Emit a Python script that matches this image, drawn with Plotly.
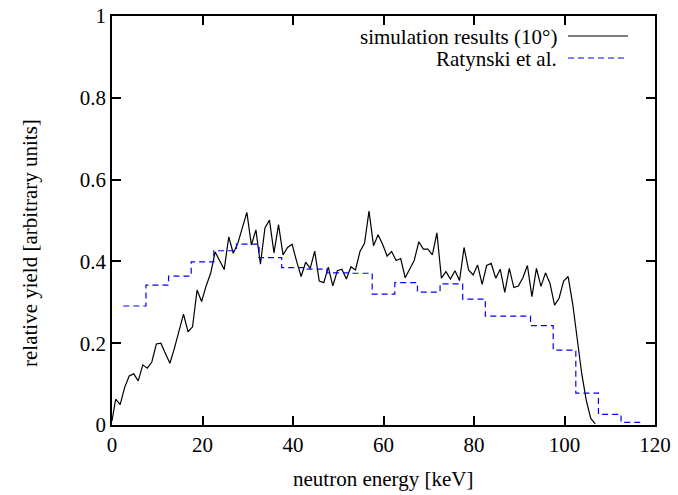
import plotly.graph_objects as go

# --- simulation results (black line) ---
sim_energy = [0.0, 0.8, 1.8, 2.8, 3.8, 4.8, 5.8, 6.8, 7.8, 8.8, 9.8, 10.8, 11.8, 12.8, 13.8,
              14.8, 15.8, 16.8, 17.8, 18.8, 19.8, 20.8, 21.8, 22.8, 23.8, 24.8, 25.8, 26.8,
              27.8, 28.8, 29.8, 30.8, 31.8, 32.8, 33.8, 34.8, 35.8, 36.8, 37.8, 38.8, 39.8,
              40.8, 41.8, 42.8, 43.8, 44.8, 45.8, 46.8, 47.8, 48.8, 49.8, 50.8, 51.8, 52.8,
              53.8, 54.8, 55.8, 56.8, 57.8, 58.8, 59.8, 60.8, 61.8, 62.8, 63.8, 64.8, 65.8,
              66.8, 67.8, 68.8, 69.8, 70.8, 71.8, 72.8, 73.8, 74.8, 75.8, 76.8, 77.8, 78.8,
              79.8, 80.8, 81.8, 82.8, 83.8, 84.8, 85.8, 86.8, 87.8, 88.8, 89.8, 90.8, 91.8,
              92.8, 93.8, 94.8, 95.8, 96.8, 97.8, 98.8, 99.8, 100.8, 101.8, 102.8, 103.8,
              104.8, 105.8, 106.8]
sim_yield = [0.01, 0.063, 0.05, 0.092, 0.12, 0.125, 0.108, 0.147, 0.139, 0.154, 0.198, 0.200,
             0.175, 0.151, 0.188, 0.232, 0.271, 0.228, 0.240, 0.330, 0.302, 0.340, 0.371,
             0.423, 0.403, 0.380, 0.460, 0.420, 0.444, 0.482, 0.520, 0.440, 0.477, 0.393,
             0.482, 0.501, 0.421, 0.490, 0.416, 0.434, 0.442, 0.400, 0.363, 0.398, 0.383,
             0.425, 0.352, 0.348, 0.386, 0.340, 0.377, 0.381, 0.357, 0.387, 0.379, 0.424,
             0.444, 0.523, 0.438, 0.465, 0.442, 0.413, 0.424, 0.402, 0.407, 0.360, 0.381,
             0.403, 0.448, 0.430, 0.430, 0.416, 0.470, 0.359, 0.375, 0.357, 0.377, 0.353,
             0.434, 0.379, 0.367, 0.391, 0.344, 0.390, 0.395, 0.359, 0.381, 0.324, 0.383,
             0.336, 0.340, 0.360, 0.390, 0.314, 0.383, 0.339, 0.372, 0.346, 0.293, 0.310,
             0.352, 0.363, 0.297, 0.216, 0.126, 0.061, 0.016, 0.003]

# --- Ratynski et al. (histogram steps) ---
rat_edges = [2.5, 7.5, 12.5, 17.5, 22.5, 27.5, 32.5, 37.5, 42.5, 47.5, 52.5, 57.5, 62.5,
             67.5, 72.5, 77.5, 82.5, 87.5, 92.5, 97.5, 102.5, 107.5, 112.5, 117.5]
rat_yield = [0.291, 0.342, 0.364, 0.399, 0.426, 0.442, 0.409, 0.385, 0.381, 0.372, 0.371,
             0.320, 0.348, 0.325, 0.345, 0.308, 0.266, 0.266, 0.243, 0.183, 0.078, 0.026,
             0.0066]

x_ticks = [0, 20, 40, 60, 80, 100, 120]
y_ticks = [0, 0.2, 0.4, 0.6, 0.8, 1]
y_tick_text = ["0", "0.2", "0.4", "0.6", "0.8", "1"]

label_sim = "simulation results (10°)"
label_rat = "Ratynski et al."
x_title = "neutron energy [keV]"
y_title = "relative yield [arbitrary units]"

FONT = "Liberation Serif"
FS = 21

fig = go.Figure()
fig.add_trace(go.Scatter(
    x=sim_energy, y=sim_yield, mode="lines",
    line=dict(color="black", width=1.2), showlegend=False))
fig.add_trace(go.Scatter(
    x=rat_edges, y=rat_yield + [rat_yield[-1]], mode="lines",
    line=dict(color="#0000ff", width=1.2, dash="6px,4px", shape="hv"), showlegend=False))

W, H = 678, 495
ml, mr, mt, mb = 112, 23, 16, 70
pw, ph = W - ml - mr, H - mt - mb

def px(x):
    return (x - ml) / pw

def py(y):
    return (H - mb - y) / ph

# manual legend (text right-aligned, sample on the right)
legend_items = [(label_sim, "black", "solid", 37), (label_rat, "#0000ff", "6px,4px", 59)]
for text, col, dash, yy in legend_items:
    fig.add_annotation(text=text, xref="paper", yref="paper", x=px(559), y=py(yy),
                       xanchor="right", yanchor="middle", showarrow=False,
                       font=dict(family=FONT, size=FS, color="black"))
    fig.add_shape(type="line", xref="paper", yref="paper", x0=px(568), x1=px(628),
                  y0=py(yy - 1), y1=py(yy - 1), line=dict(color=col, width=1.2, dash=dash))

fig.add_annotation(text=y_title, xref="paper", yref="paper", x=px(30), y=py(243),
                   textangle=-90, xanchor="center", yanchor="middle", showarrow=False,
                   font=dict(family=FONT, size=FS, color="black"))
fig.add_annotation(text=x_title, xref="paper", yref="paper", x=px(383), y=py(479),
                   xanchor="center", yanchor="middle", showarrow=False,
                   font=dict(family=FONT, size=FS, color="black"))

axis_common = dict(showgrid=False, zeroline=False, showline=True, mirror="allticks",
                   linecolor="black", linewidth=1.5, ticks="inside", ticklen=9,
                   tickwidth=1.5, tickcolor="black", automargin=False,
                   tickfont=dict(family=FONT, size=FS, color="black"))

fig.update_layout(
    width=W, height=H, margin=dict(l=ml, r=mr, t=mt, b=mb),
    paper_bgcolor="white", plot_bgcolor="white",
    xaxis=dict(range=[0, 120], tickvals=x_ticks, **axis_common),
    yaxis=dict(range=[0, 1], tickvals=y_ticks, ticktext=y_tick_text, **axis_common),
)

fig.write_html("out.html")
